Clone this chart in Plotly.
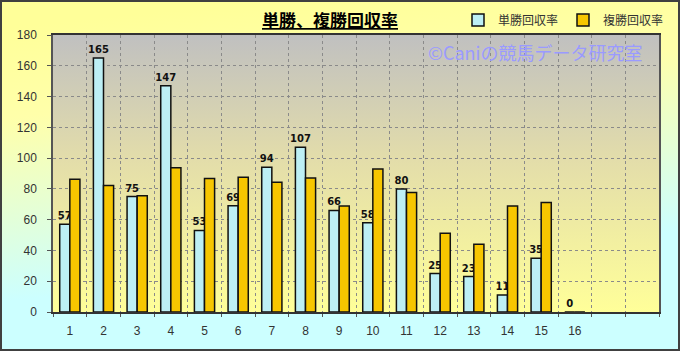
import base64
import plotly.graph_objects as go

categories = list(range(1, 17))
tansho = [57, 165, 75, 147, 53, 69, 94, 107, 66, 58, 80, 25, 23, 11, 35, 0]
fukusho = [86.3, 82.2, 75.5, 93.8, 86.7, 87.6, 84.3, 87.1, 68.8, 93.0, 77.6, 51.2, 44.1, 68.8, 71.1, 0]
n_slots = 18
y_ticks = list(range(0, 181, 20))

W, H = 680, 351
L, R, T, B = 53, 21, 35, 39
pw, ph = W - L - R, H - T - B

def svg_uri(svg):
    return "data:image/svg+xml;base64," + base64.b64encode(svg.encode()).decode()

outer_svg = f'''<svg xmlns="http://www.w3.org/2000/svg" width="{W}" height="{H}" viewBox="0 0 {W} {H}" preserveAspectRatio="none">
<defs><linearGradient id="g" x1="0.4" y1="0" x2="0.6" y2="1">
<stop offset="0" stop-color="#FFFF99"/><stop offset="0.25" stop-color="#FFFFAA"/><stop offset="0.75" stop-color="#CCFFFF"/><stop offset="1" stop-color="#CCFFFF"/>
</linearGradient></defs>
<rect x="0" y="0" width="{W}" height="{H}" fill="url(#g)"/>
<rect x="1" y="1" width="{W-2}" height="{H-2}" fill="none" stroke="#404040" stroke-width="2"/>
</svg>'''

plot_svg = '''<svg xmlns="http://www.w3.org/2000/svg" width="100" height="100" viewBox="0 0 100 100" preserveAspectRatio="none">
<defs><linearGradient id="p" x1="0" y1="0" x2="0" y2="1">
<stop offset="0" stop-color="#C0C0C0"/><stop offset="0.45" stop-color="#E3DDAA"/><stop offset="1" stop-color="#FFFF99"/>
</linearGradient></defs>
<rect x="0" y="0" width="100" height="100" fill="url(#p)"/>
</svg>'''

fig = go.Figure()
fig.add_trace(go.Bar(
    x=categories, y=tansho, name="単勝回収率",
    marker=dict(color="#BDEFF5", line=dict(color="#111111", width=1.5)),
    text=[str(v) for v in tansho], textposition="outside", constraintext="none",
    textfont=dict(family="DejaVu Sans", size=10, color="#111111", weight="bold"),
    cliponaxis=False,
))
fig.add_trace(go.Bar(
    x=categories, y=fukusho, name="複勝回収率",
    marker=dict(color="#F7C600", line=dict(color="#111111", width=1.5)),
))

fig.update_layout(
    width=W, height=H,
    margin=dict(l=L, r=R, t=T, b=B, autoexpand=False),
    paper_bgcolor="rgba(0,0,0,0)", plot_bgcolor="rgba(0,0,0,0)",
    barmode="group", bargap=0.4, bargroupgap=0,
    font=dict(family="Noto Sans CJK JP", color="#333333"),
    showlegend=True,
    legend=dict(orientation="h", x=(458 - L) / pw, y=1 + (T - 20) / ph,
                xanchor="left", yanchor="middle", bgcolor="rgba(0,0,0,0)",
                font=dict(size=12, color="#333333"), itemwidth=30,
                entrywidth=60, entrywidthmode="pixels", tracegroupgap=0),
    images=[
        dict(source=svg_uri(outer_svg), xref="paper", yref="paper",
             x=-L / pw, y=1 + T / ph, sizex=W / pw, sizey=H / ph,
             sizing="stretch", layer="below", xanchor="left", yanchor="top"),
        dict(source=svg_uri(plot_svg), xref="paper", yref="paper",
             x=0, y=1, sizex=1, sizey=1,
             sizing="stretch", layer="below", xanchor="left", yanchor="top"),
    ],
    annotations=[
        dict(text="<b><u>単勝、複勝回収率</u></b>", xref="paper", yref="paper",
             x=(330 - L) / pw, y=1 + (T - 20) / ph, xanchor="center", yanchor="middle",
             showarrow=False, font=dict(size=17, color="#000000", family="Noto Sans CJK JP")),
        dict(text="©Caniの競馬データ研究室", xref="paper", yref="paper",
             x=(645 - L) / pw, y=1 - (52 - T) / ph, xanchor="right", yanchor="middle",
             showarrow=False, font=dict(size=18, color="#9A9AFF", family="Noto Sans CJK JP")),
    ],
)

fig.update_xaxes(
    range=[0.5, n_slots + 0.5], tickmode="array", tickvals=categories,
    ticktext=[str(c) for c in categories], showgrid=False, ticks="",
    ticklabelstandoff=7,
    tickfont=dict(size=12, color="#333333", family="Liberation Sans"),
    showline=True, linecolor="#333333", linewidth=1.5, mirror=True, zeroline=False,
    minor=dict(tickmode="linear", tick0=0.5, dtick=1, showgrid=True,
               gridcolor="#8A8A8A", griddash="dot", gridwidth=1,
               ticks="outside", ticklen=3, tickcolor="#555555"),
)
fig.update_yaxes(
    range=[0, 180], tickmode="array", tickvals=y_ticks,
    showgrid=True, gridcolor="#8A8A8A", griddash="dot", gridwidth=1,
    ticks="outside", ticklen=4, tickcolor="#555555", ticklabelstandoff=8,
    tickfont=dict(size=12, color="#333333", family="Liberation Sans"),
    showline=True, linecolor="#555555", linewidth=1.5, mirror=True, zeroline=False,
)

fig.write_html("out.html")
